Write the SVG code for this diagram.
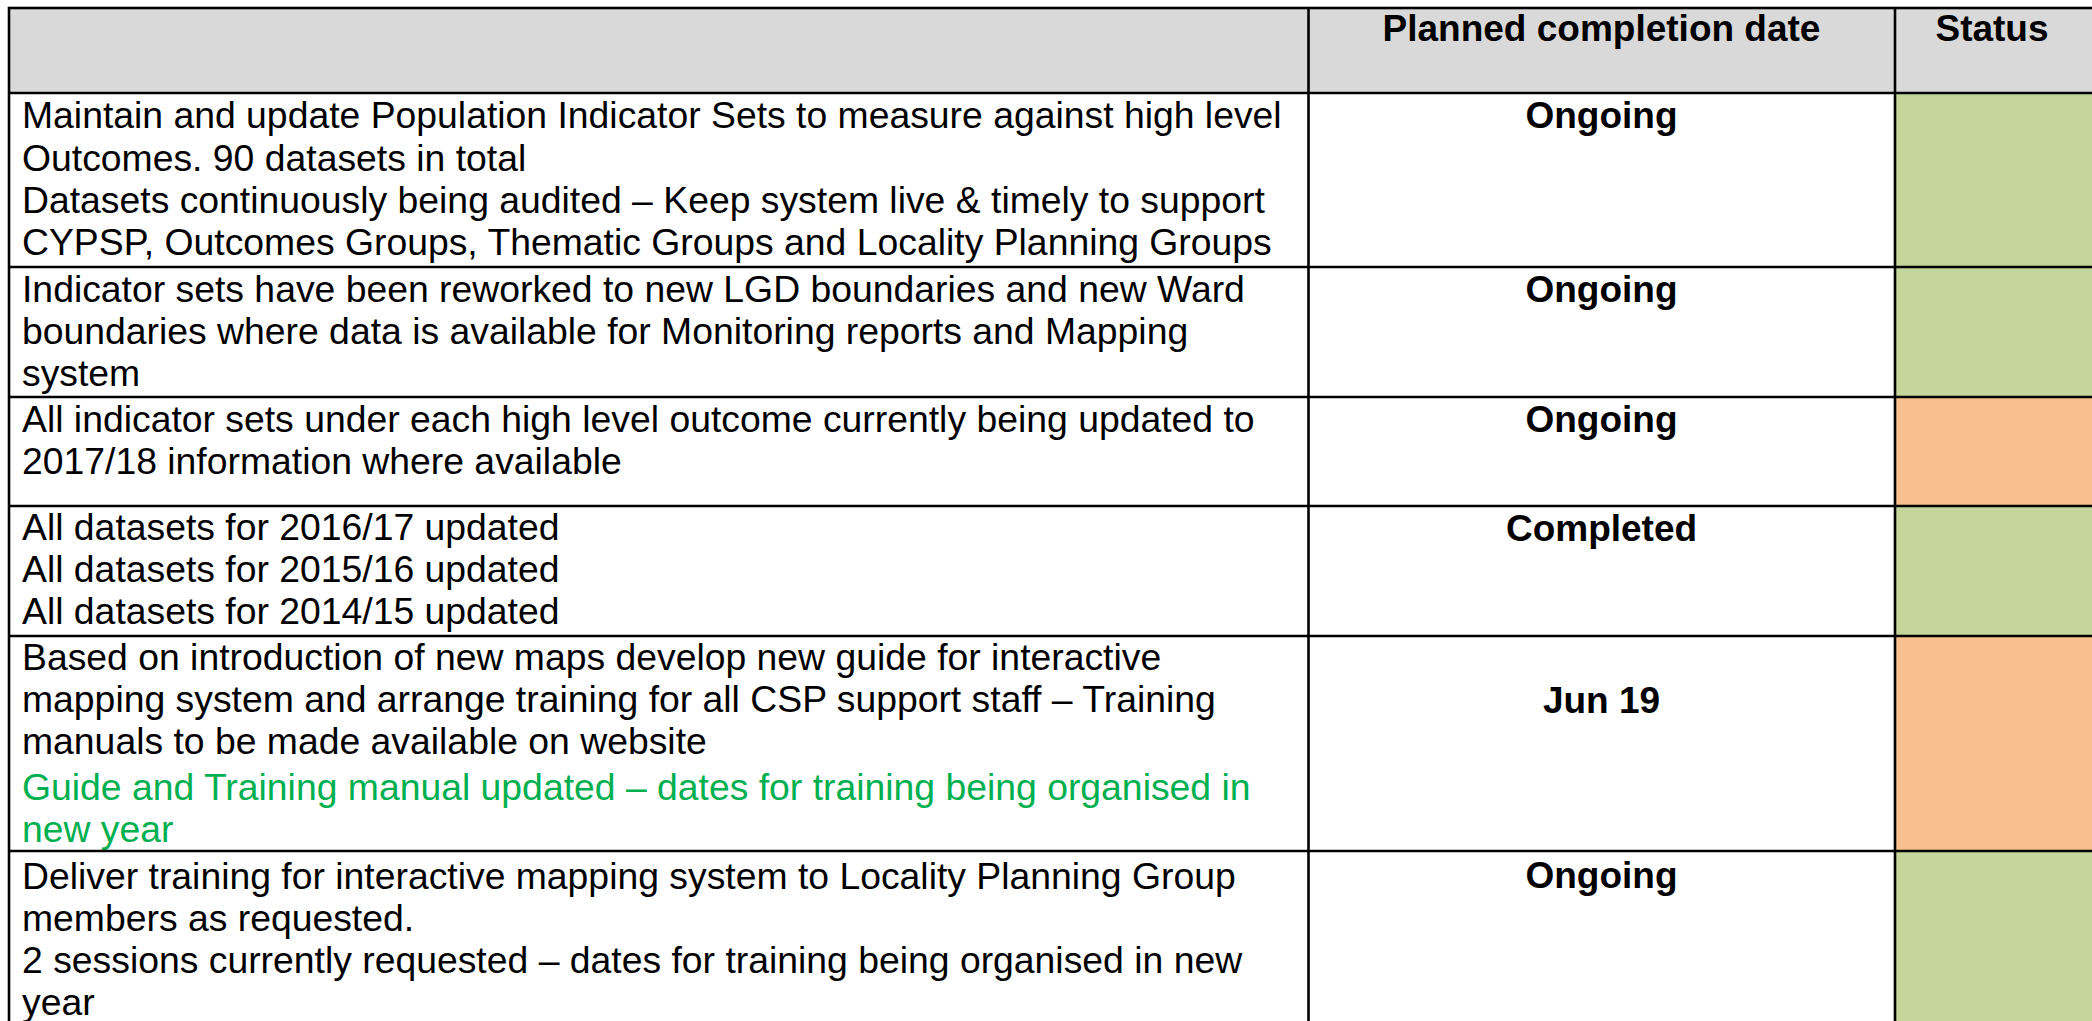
<svg xmlns="http://www.w3.org/2000/svg" width="2092" height="1021" viewBox="0 0 2092 1021">
<style>
.t{font-family:"Liberation Sans",Arial,sans-serif;font-size:37.35px;fill:#000}
.b{font-family:"Liberation Sans",Arial,sans-serif;font-size:37px;font-weight:bold;fill:#000;text-anchor:middle}
.g{fill:#00B050}
.ln{stroke:#000;stroke-width:2.6;fill:none}
</style>
<rect x="0" y="0" width="2092" height="1021" fill="#fff"/>
<g id="header">
<rect x="9" y="8" width="2090" height="85" fill="#D9D9D9"/>
<text class="b" x="1601.5" y="41">Planned completion date</text>
<text class="b" x="1992" y="41">Status</text>
</g>
<g id="row1">
<rect x="1895" y="93" width="200" height="174" fill="#C4D69B"/>
<text class="t" x="22" y="128.3">Maintain and update Population Indicator Sets to measure against high level</text>
<text class="t" x="22" y="170.5">Outcomes. 90 datasets in total</text>
<text class="t" x="22" y="212.7">Datasets continuously being audited – Keep system live &amp; timely to support</text>
<text class="t" x="22" y="255">CYPSP, Outcomes Groups, Thematic Groups and Locality Planning Groups</text>
<text class="b" x="1601.5" y="128.3">Ongoing</text>
</g>
<g id="row2">
<rect x="1895" y="267" width="200" height="130" fill="#C4D69B"/>
<text class="t" x="22" y="301.7">Indicator sets have been reworked to new LGD boundaries and new Ward</text>
<text class="t" x="22" y="344">boundaries where data is available for Monitoring reports and Mapping</text>
<text class="t" x="22" y="386.3">system</text>
<text class="b" x="1601.5" y="301.7">Ongoing</text>
</g>
<g id="row3">
<rect x="1895" y="397" width="200" height="109" fill="#F9BF8F"/>
<text class="t" x="22" y="431.7">All indicator sets under each high level outcome currently being updated to</text>
<text class="t" x="22" y="474">2017/18 information where available</text>
<text class="b" x="1601.5" y="431.7">Ongoing</text>
</g>
<g id="row4">
<rect x="1895" y="506" width="200" height="130" fill="#C4D69B"/>
<text class="t" x="22" y="540">All datasets for 2016/17 updated</text>
<text class="t" x="22" y="582">All datasets for 2015/16 updated</text>
<text class="t" x="22" y="624">All datasets for 2014/15 updated</text>
<text class="b" x="1601.5" y="540.5">Completed</text>
</g>
<g id="row5">
<rect x="1895" y="636" width="200" height="215" fill="#F9BF8F"/>
<text class="t" x="22" y="670">Based on introduction of new maps develop new guide for interactive</text>
<text class="t" x="22" y="712">mapping system and arrange training for all CSP support staff – Training</text>
<text class="t" x="22" y="754">manuals to be made available on website</text>
<text class="t g" x="22" y="800">Guide and Training manual updated – dates for training being organised in</text>
<text class="t g" x="22" y="841.5">new year</text>
<text class="b" x="1601.5" y="713.3">Jun 19</text>
</g>
<g id="row6">
<rect x="1895" y="851" width="200" height="180" fill="#C4D69B"/>
<text class="t" x="22" y="889">Deliver training for interactive mapping system to Locality Planning Group</text>
<text class="t" x="22" y="931">members as requested.</text>
<text class="t" x="22" y="973">2 sessions currently requested – dates for training being organised in new</text>
<text class="t" x="22" y="1015">year</text>
<text class="b" x="1601.5" y="888">Ongoing</text>
</g>
<g id="grid">
<rect class="ln" x="9" y="8" width="2090" height="1030"/>
<line class="ln" x1="9" y1="93" x2="2092" y2="93"/>
<line class="ln" x1="9" y1="267" x2="2092" y2="267"/>
<line class="ln" x1="9" y1="397" x2="2092" y2="397"/>
<line class="ln" x1="9" y1="506" x2="2092" y2="506"/>
<line class="ln" x1="9" y1="636" x2="2092" y2="636"/>
<line class="ln" x1="9" y1="851" x2="2092" y2="851"/>
<line class="ln" x1="1308.5" y1="8" x2="1308.5" y2="1021"/>
<line class="ln" x1="1895" y1="8" x2="1895" y2="1021"/>
</g>
</svg>
